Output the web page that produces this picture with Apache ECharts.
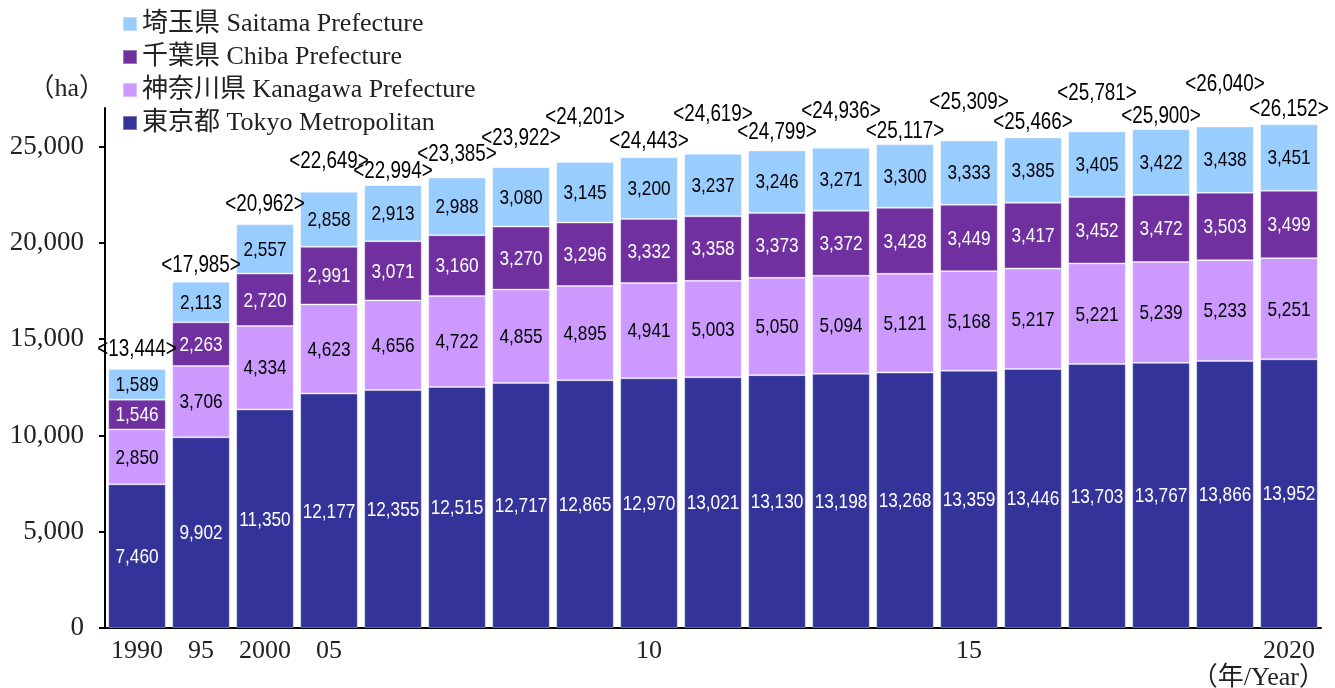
<!DOCTYPE html>
<html>
<head>
<meta charset="utf-8">
<script src="https://cdn.jsdelivr.net/npm/echarts@6/dist/echarts.min.js"></script>
<style>
html,body{margin:0;padding:0;background:#fff;}
#main{width:1335px;height:688px;}
</style>
</head>
<body>
<div id="main"></div>
<script>
const categories = ['1990','1995','2000','2005','2006','2007','2008','2009','2010','2011','2012','2013','2014','2015','2016','2017','2018','2019','2020'];
const xTickLabels = ['1990','95','2000','05','','','','','10','','','','','15','','','','','2020'];
const yTickValues = [0,5000,10000,15000,20000,25000];
const tokyo    = [7460,9902,11350,12177,12355,12515,12717,12865,12970,13021,13130,13198,13268,13359,13446,13703,13767,13866,13952];
const kanagawa = [2850,3706,4334,4623,4656,4722,4855,4895,4941,5003,5050,5094,5121,5168,5217,5221,5239,5233,5251];
const chiba    = [1546,2263,2720,2991,3071,3160,3270,3296,3332,3358,3373,3372,3428,3449,3417,3452,3472,3503,3499];
const saitama  = [1589,2113,2557,2858,2913,2988,3080,3145,3200,3237,3246,3271,3300,3333,3385,3405,3422,3438,3451];
const totals   = [13444,17985,20962,22649,22994,23385,23922,24201,24443,24619,24799,24936,25117,25309,25466,25781,25900,26040,26152];
const seriesNames = ['東京都 Tokyo Metropolitan','神奈川県 Kanagawa Prefecture','千葉県 Chiba Prefecture','埼玉県 Saitama Prefecture'];

// label placement (style): height in px of each total label's centre above its bar top
const totalRise = [19,16,20,30,13,23,29,44,16,39,18,36,13,38,15,38,13,42,15];

const serifName = "'Liberation Serif','Noto Sans CJK JP',serif";
const sansName = "'Liberation Sans',Arial,sans-serif";
const fmt = v => String(v).replace(/\B(?=(\d{3})+(?!\d))/g, ',');

const colors = ['#333399','#cc99ff','#7030a0','#99ccff'];
const labelColors = ['#ffffff','#000000','#ffffff','#000000'];
const dataSets = [tokyo,kanagawa,chiba,saitama];

const barSeries = dataSets.map((d,i)=>({
  name: seriesNames[i],
  type: 'bar',
  stack: 'total',
  barCategoryGap: '10%',
  data: d,
  itemStyle: {color: colors[i], borderColor: 'rgba(255,255,255,0.35)', borderWidth: 1},
  emphasis: {disabled: true}
}));

// value labels drawn as condensed text (Arial Narrow look) at library coordinates
const labelSeries = {
  name: 'labels', type: 'custom', silent: true, clip: false, z: 10,
  data: totals.map((t,i)=>[i,t]),
  encode: {x: 0, y: 1},
  renderItem: function (params, api) {
    const i = params.dataIndex;
    const children = [];
    let base = 0;
    dataSets.forEach((d, k) => {
      const mid = api.coord([i, base + d[i] / 2]);
      base += d[i];
      children.push({
        type: 'text', x: mid[0], y: mid[1] + 1, scaleX: 0.82,
        style: {text: fmt(d[i]), x: 0, y: 0, align: 'center', verticalAlign: 'middle',
          font: '21px ' + sansName, fill: labelColors[k]}
      });
    });
    const top = api.coord([i, totals[i]]);
    children.push({
      type: 'text', x: top[0], y: top[1] - totalRise[i], scaleX: 0.82,
      style: {text: '<' + fmt(totals[i]) + '>', x: 0, y: 0, align: 'center', verticalAlign: 'middle',
        font: '23px ' + sansName, fill: '#000'}
    });
    return {type: 'group', children: children};
  }
};

const chart = echarts.init(document.getElementById('main'), null, {renderer: 'canvas'});
chart.setOption({
  animation: false,
  backgroundColor: '#fff',
  grid: {left: 105, right: 14, top: 108, bottom: 60, containLabel: false},
  legend: {
    orient: 'vertical', left: 117, top: 6, itemGap: 7,
    itemWidth: 14, itemHeight: 14, icon: 'rect',
    data: [seriesNames[3], seriesNames[2], seriesNames[1], seriesNames[0]],
    textStyle: {fontFamily: serifName, fontSize: 26, color: '#222'},
    selectedMode: false
  },
  xAxis: {
    type: 'category', data: categories,
    axisLine: {lineStyle: {color: '#000', width: 2}},
    axisTick: {show: false},
    axisLabel: {interval: 0, margin: 10, fontFamily: serifName, fontSize: 26, color: '#222',
      formatter: (v, i) => xTickLabels[i]}
  },
  yAxis: {
    type: 'value', min: 0, max: 27000, interval: 5000,
    name: '（ha）', nameLocation: 'end', nameGap: 6,
    nameTextStyle: {fontFamily: serifName, fontSize: 26, color: '#222', align: 'right', padding: [0, 0, 0, 0]},
    splitLine: {show: false},
    axisLine: {show: true, lineStyle: {color: '#000', width: 2}},
    axisTick: {show: true, inside: false, length: 6, lineStyle: {color: '#000', width: 2}, customValues: yTickValues},
    axisLabel: {margin: 21, fontFamily: serifName, fontSize: 27, color: '#222',
      customValues: yTickValues, formatter: v => fmt(v)}
  },
  graphic: [{
    type: 'text', right: 10, top: 665,
    style: {text: '（年/Year）', font: "26px 'Liberation Serif','Noto Sans CJK JP',serif", fill: '#222'}
  }],
  series: [...barSeries, labelSeries]
});
</script>
</body>
</html>
